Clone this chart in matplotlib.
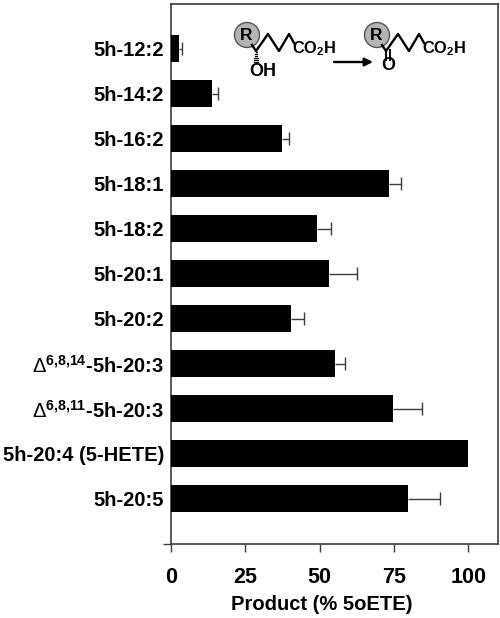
import matplotlib
matplotlib.use('Agg')
import matplotlib.pyplot as plt
from matplotlib.patches import Circle

plt.rcParams['font.family'] = ['Liberation Sans', 'DejaVu Sans']
plt.rcParams['mathtext.fontset'] = 'custom'
plt.rcParams['mathtext.rm'] = 'Liberation Sans'
plt.rcParams['mathtext.bf'] = 'Liberation Sans:bold'

labels = ['5h-12:2', '5h-14:2', '5h-16:2', '5h-18:1', '5h-18:2', '5h-20:1', '5h-20:2',
          r'$\mathrm{\Delta}^{\mathbf{6{,}8{,}14}}$-5h-20:3',
          r'$\mathrm{\Delta}^{\mathbf{6{,}8{,}11}}$-5h-20:3',
          '5h-20:4 (5-HETE)', '5h-20:5']
values = [2.6, 13.8, 37.4, 73.2, 49.0, 53.2, 40.4, 55.2, 74.8, 100.0, 79.6]
errors = [1.2, 1.9, 2.2, 4.2, 4.8, 9.4, 4.4, 3.4, 9.6, 0.0, 11.0]
xticks = [0, 25, 50, 75, 100]

W, H = 500, 618
dark = '#3c3c3c'

fig = plt.figure(figsize=(W / 100, H / 100), dpi=100)
ax = fig.add_axes([171 / W, 1 - 543.5 / H, (498 - 171) / W, (543.5 - 3.5) / H])

pos = list(range(len(labels), 0, -1))
ax.barh(pos, values, height=0.62, color='black', zorder=3)
# upper error only, no cap at the bar end
for p, v, e in zip(pos, values, errors):
    if e > 0:
        ax.hlines(p, v, v + e, color=dark, lw=1, zorder=2)
        ax.vlines(v + e, p - 0.145, p + 0.145, color=dark, lw=1, zorder=2)

ax.set_xlim(0, 110)
ax.set_ylim(0, 12)
ax.set_xticks(xticks)
ax.set_xticklabels(xticks, fontsize=15.5, fontweight='bold')
ax.set_yticks(pos)
ax.set_yticklabels(labels, fontsize=14.5, fontweight='bold')
ax.set_yticks([0], minor=True)
ax.tick_params(axis='y', which='major', length=0, pad=5)
ax.tick_params(axis='y', which='minor', length=6, width=1, color=dark)
ax.tick_params(axis='x', length=6, width=1, color=dark, pad=11)
ax.set_xlabel('Product (% 5oETE)', fontsize=14.5, fontweight='bold')
ax.xaxis.set_label_coords((322 - 171) / (498 - 171), -(605 - 543.5) / 540, transform=ax.transAxes)
ax.xaxis.label.set_va('center')
for s in ax.spines.values():
    s.set_color(dark)
    s.set_linewidth(1.2)

# reaction scheme, in pixel coordinates of the picture
sch = fig.add_axes([0, 0, 1, 1], facecolor='none')
sch.set_xlim(0, W)
sch.set_ylim(H, 0)
sch.axis('off')


def chain(x0):
    # R circle and the zig-zag carbon chain
    sch.add_patch(Circle((x0, 35), 12.5, fc='#b4b4b4', ec='#555555', lw=1))
    sch.text(x0 - 0.5, 35, 'R', fontsize=12.5, fontweight='bold', ha='center', va='center')
    sch.plot([x0 + 5, x0 + 9, x0 + 21, x0 + 32, x0 + 42, x0 + 47],
             [45, 51, 34, 51, 34, 43], color='black', lw=1.7)
    sch.text(x0 + 45, 49, r'CO$_{\mathbf{2}}$H', fontsize=11.8, fontweight='bold', ha='left', va='center')


chain(247)
chain(377)
sch.text(263, 72, 'OH', fontsize=13, fontweight='bold', ha='center', va='center')
for i in range(6):
    y = 52 + i * 2
    hw = 0.5 + i * 0.35
    sch.plot([256 - hw, 256 + hw], [y, y], color='black', lw=0.9)
sch.annotate('', xy=(373, 62), xytext=(334, 62),
             arrowprops=dict(arrowstyle='-|>', color='black', lw=1.7, mutation_scale=12, shrinkA=0, shrinkB=0))
sch.plot([385.5, 385.5], [50, 60], color='black', lw=1.4)
sch.plot([389.5, 389.5], [50, 60], color='black', lw=1.4)
sch.text(388, 66, 'O', fontsize=13, fontweight='bold', ha='center', va='center')

fig.savefig('out.png', dpi=100)
